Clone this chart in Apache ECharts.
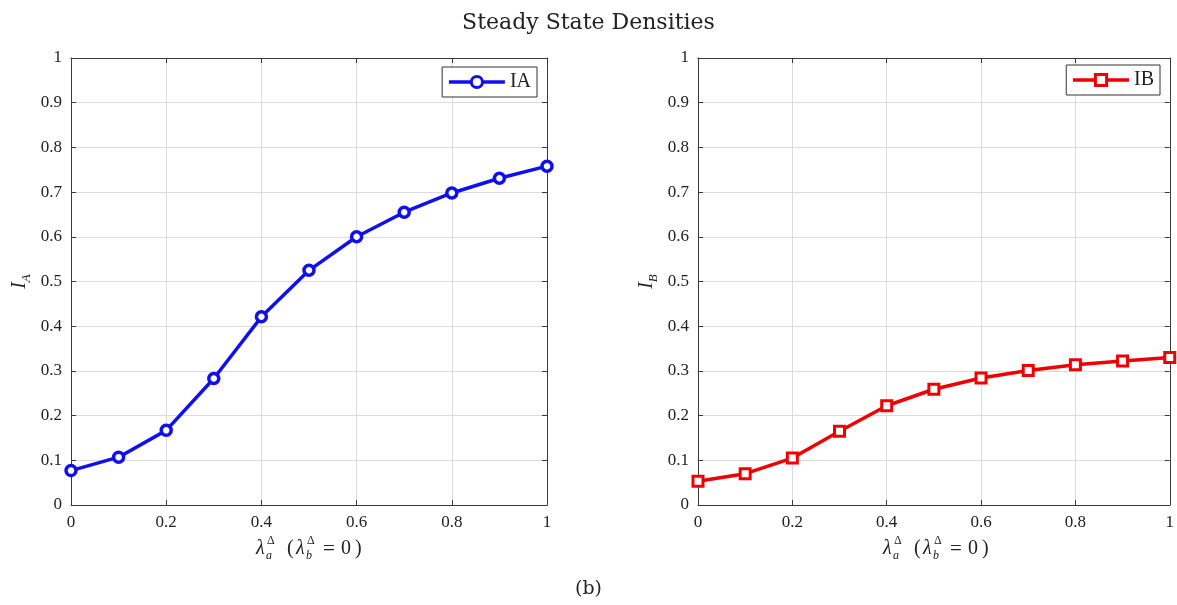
<!DOCTYPE html>
<html>
<head>
<meta charset="utf-8">
<title>Steady State Densities</title>
<script src="https://cdn.jsdelivr.net/npm/echarts@6/dist/echarts.min.js"></script>
<style>
  html, body { margin: 0; padding: 0; background: #ffffff; }
  #chart { width: 1177px; height: 605px; }
</style>
</head>
<body>
<div id="chart"></div>
<script>
// lambda_a values (lambda_b = 0)
const lambdaA = [0, 0.1, 0.2, 0.3, 0.4, 0.5, 0.6, 0.7, 0.8, 0.9, 1.0];
// steady state density of infected A
const densityIA = [0.077, 0.107, 0.167, 0.283, 0.421, 0.525, 0.600, 0.655, 0.698, 0.731, 0.758];
// steady state density of infected B
const densityIB = [0.053, 0.070, 0.105, 0.165, 0.222, 0.259, 0.284, 0.301, 0.314, 0.322, 0.330];
const xTicks = [0, 0.2, 0.4, 0.6, 0.8, 1];
const yTicks = [0, 0.1, 0.2, 0.3, 0.4, 0.5, 0.6, 0.7, 0.8, 0.9, 1];

const SERIF = '"Liberation Serif", "DejaVu Serif", serif';
const WIDE_SERIF = '"DejaVu Serif", "Liberation Serif", serif';
const AXIS_COLOR = '#3a3a3a';
const GRID_COLOR = '#dcdcdc';
const BLUE = '#1010ee';
const RED = '#f00000';

const chart = echarts.init(document.getElementById('chart'), null, { renderer: 'canvas' });

function pairs(xs, ys) { return xs.map((x, i) => [x, ys[i]]); }

function xAxes(gridIndex) {
  return [
    {
      gridIndex, type: 'value', position: 'bottom',
      min: xTicks[0], max: xTicks[xTicks.length - 1], interval: 0.2,
      axisLine: { onZero: false, lineStyle: { color: AXIS_COLOR, width: 1 } },
      axisTick: { inside: true, length: 5, lineStyle: { color: AXIS_COLOR } },
      axisLabel: { margin: 9, fontSize: 17, fontFamily: SERIF, color: '#222' },
      splitLine: { show: true, lineStyle: { color: GRID_COLOR, width: 1 } }
    },
    {
      gridIndex, type: 'value', position: 'top',
      min: xTicks[0], max: xTicks[xTicks.length - 1], interval: 0.2,
      axisLine: { onZero: false, lineStyle: { color: AXIS_COLOR, width: 1 } },
      axisTick: { inside: true, length: 5, lineStyle: { color: AXIS_COLOR } },
      axisLabel: { show: false },
      splitLine: { show: false }
    }
  ];
}

function yAxes(gridIndex, sub) {
  return [
    {
      gridIndex, type: 'value', position: 'left',
      min: yTicks[0], max: yTicks[yTicks.length - 1], interval: 0.1,
      name: '{i|I}{s|' + sub + '}',
      nameLocation: 'middle', nameGap: 38, nameRotate: 90,
      nameTextStyle: {
        rich: {
          i: { fontSize: 20, fontStyle: 'italic', fontFamily: SERIF, color: '#222', lineHeight: 26, verticalAlign: 'middle' },
          s: { fontSize: 13, fontStyle: 'italic', fontFamily: SERIF, color: '#222', lineHeight: 14, verticalAlign: 'bottom' }
        }
      },
      axisLine: { onZero: false, lineStyle: { color: AXIS_COLOR, width: 1 } },
      axisTick: { inside: true, length: 5, lineStyle: { color: AXIS_COLOR } },
      axisLabel: { margin: 9, fontSize: 17, fontFamily: SERIF, color: '#222' },
      splitLine: { show: true, lineStyle: { color: GRID_COLOR, width: 1 } }
    },
    {
      gridIndex, type: 'value', position: 'right',
      min: yTicks[0], max: yTicks[yTicks.length - 1], interval: 0.1,
      axisLine: { onZero: false, lineStyle: { color: AXIS_COLOR, width: 1 } },
      axisTick: { inside: true, length: 5, lineStyle: { color: AXIS_COLOR } },
      axisLabel: { show: false },
      splitLine: { show: false }
    }
  ];
}

// x-axis caption: lambda_a^Delta (lambda_b^Delta = 0), with stacked super/subscripts
function lambdaCaption(cx, cy) {
  const x0 = -53;
  const base = { fontFamily: SERIF, fill: '#222', verticalAlign: 'middle', align: 'left' };
  const t = (dx, dy, text, size, italic) => ({
    type: 'text', x: x0 + dx, y: dy,
    style: Object.assign({}, base, { text, fontSize: size, fontStyle: italic ? 'italic' : 'normal' })
  });
  return {
    type: 'group', x: cx, y: cy, silent: true,
    children: [
      t(0, 0, 'λ', 20, true),
      t(11, -8, 'Δ', 12, false),
      t(10, 7, 'a', 12, true),
      t(31, 0, '(', 20, false),
      t(40, 0, 'λ', 20, true),
      t(51, -8, 'Δ', 12, false),
      t(50, 7, 'b', 12, true),
      t(67, 0, '=', 21, false),
      t(85, 0, '0', 20, false),
      t(99, 0, ')', 20, false)
    ]
  };
}

const legendBase = {
  orient: 'horizontal',
  itemWidth: 56, itemHeight: 14,
  padding: [5, 6, 5, 5], borderColor: '#333', borderWidth: 1, backgroundColor: '#fff',
  textStyle: { fontFamily: SERIF, fontSize: 20, color: '#222' },
  lineStyle: { width: 3.5 },
  itemStyle: { borderWidth: 3 }
};

const option = {
  backgroundColor: '#ffffff',
  animation: false,
  title: [
    {
      text: 'Steady State Densities', left: 'center', top: 7,
      textStyle: { fontFamily: WIDE_SERIF, fontSize: 22, fontWeight: 'normal', color: '#222' }
    },
    {
      text: '(b)', left: 'center', top: 575,
      textStyle: { fontFamily: WIDE_SERIF, fontSize: 19, fontWeight: 'normal', color: '#222' }
    }
  ],
  legend: [
    Object.assign({}, legendBase, { data: ['IA'], right: 640, top: 67 }),
    Object.assign({}, legendBase, { data: ['IB'], right: 17, top: 65 })
  ],
  grid: [
    { left: 71, right: 630, top: 58, bottom: 100 },
    { left: 698, right: 3, top: 58, bottom: 100 }
  ],
  xAxis: [...xAxes(0), ...xAxes(1)],
  yAxis: [...yAxes(0, 'A'), ...yAxes(1, 'B')],
  series: [
    {
      name: 'IA', type: 'line', xAxisIndex: 0, yAxisIndex: 0,
      data: pairs(lambdaA, densityIA),
      symbol: 'circle', symbolSize: 10,
      lineStyle: { color: BLUE, width: 3.5 },
      itemStyle: { color: '#ffffff', borderColor: BLUE, borderWidth: 3.5 },
      z: 5
    },
    {
      name: 'IB', type: 'line', xAxisIndex: 2, yAxisIndex: 2,
      data: pairs(lambdaA, densityIB),
      symbol: 'rect', symbolSize: 10,
      lineStyle: { color: RED, width: 3.5 },
      itemStyle: { color: '#ffffff', borderColor: RED, borderWidth: 3 },
      z: 5
    }
  ],
  graphic: [
    lambdaCaption(309, 549),
    lambdaCaption(936, 549)
  ]
};

chart.setOption(option);
</script>
</body>
</html>
